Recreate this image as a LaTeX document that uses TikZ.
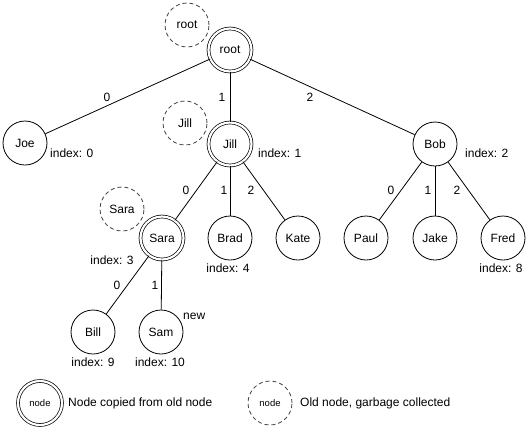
\documentclass[tikz,border=0pt]{standalone}
\usepackage{fontspec}
\setmainfont{Liberation Sans}
\begin{document}
\begin{tikzpicture}[x=1pt,y=-1pt,
  every node/.style={font=\fontsize{12}{14}\selectfont},
  tn/.style={circle,draw,line width=0.8pt,minimum size=44pt,inner sep=0pt},
  cp/.style={circle,draw,line width=0.7pt,double,double distance=2.2pt,minimum size=43pt,inner sep=0pt},
  old/.style={circle,draw=black!75,line width=0.8pt,dash pattern=on 4pt off 3pt,minimum size=44pt,inner sep=0pt},
  lbl/.style={inner sep=0pt},
  conn/.style={line width=0.8pt}]
\useasboundingbox (0,0) rectangle (527,429);
% old nodes
\node[old] (oroot) at (187,25) {root};
\node[old] (ojill) at (185,123) {Jill};
\node[old] (osara) at (122,209) {Sara};
% tree
\node[cp] (root) at (230,50) {root};
\node[tn] (joe) at (25,143) {Joe};
\node[cp] (jill) at (230,144) {Jill};
\node[tn] (bob) at (435,144) {Bob};
\node[cp] (sara) at (162,238) {Sara};
\node[tn] (brad) at (230,238) {Brad};
\node[tn] (kate) at (298,238) {Kate};
\node[tn] (paul) at (366,238) {Paul};
\node[tn] (jake) at (435,238) {Jake};
\node[tn] (fred) at (503,238) {Fred};
\node[tn] (bill) at (93,332) {Bill};
\node[tn] (sam) at (161,332) {Sam};
% connectors
\draw[conn] (root) -- (joe) node[lbl] at (107,97) {0};
\draw[conn] (root) -- (jill) node[lbl] at (222,97) {1};
\draw[conn] (root) -- (bob) node[lbl] at (310,97) {2};
\draw[conn] (jill) -- (sara) node[lbl] at (186,190) {0};
\draw[conn] (jill) -- (brad) node[lbl] at (224,190) {1};
\draw[conn] (jill) -- (kate) node[lbl] at (251,190) {2};
\draw[conn] (bob) -- (paul) node[lbl] at (391,190) {0};
\draw[conn] (bob) -- (jake) node[lbl] at (428,190) {1};
\draw[conn] (bob) -- (fred) node[lbl] at (457,190) {2};
\draw[conn] (sara) -- (bill) node[lbl] at (117,285) {0};
\draw[conn] (sara) -- (sam) node[lbl] at (155,285) {1};
% index labels
\node[lbl,anchor=west] (i0) at (50,153) {index: 0};
\node[lbl,anchor=west] (i1) at (258,153) {index: 1};
\node[lbl,anchor=west] (i2) at (465,153) {index: 2};
\node[lbl] (i3) at (112,260) {index: 3};
\node[lbl] (i4) at (228,268) {index: 4};
\node[lbl] (i8) at (501,268) {index: 8};
\node[lbl] (i9) at (93,362) {index: 9};
\node[lbl] (i10) at (160,362) {index: 10};
\node[lbl,anchor=west] (new) at (183,316) {new};
% legend
\node[cp,minimum size=44pt,font=\fontsize{9.5}{11}\selectfont] (lcp) at (40,403) {node};
\node[lbl,anchor=west] (lcpt) at (68,403) {Node copied from old node};
\node[old,minimum size=44pt,font=\fontsize{9.5}{11}\selectfont] (lold) at (270,403) {node};
\node[lbl,anchor=west] (loldt) at (300,403) {Old node, garbage collected};
\end{tikzpicture}
\end{document}
